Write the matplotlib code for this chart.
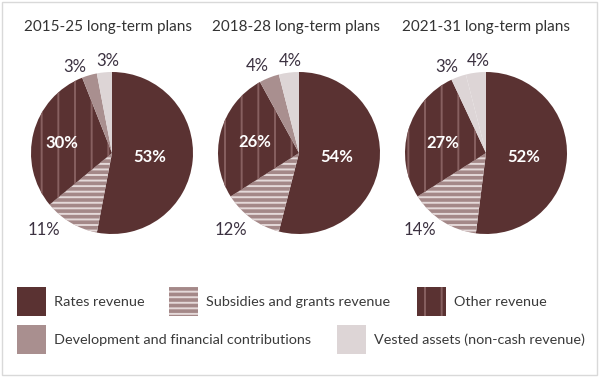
import matplotlib
matplotlib.use("Agg")
import matplotlib.pyplot as plt
from matplotlib.patches import Rectangle

# data
plans = ["2015-25 long-term plans", "2018-28 long-term plans", "2021-31 long-term plans"]
categories = ["Rates revenue", "Subsidies and grants revenue", "Other revenue",
              "Development and financial contributions", "Vested assets (non-cash revenue)"]
rates = [53, 54, 52]
subsidies = [11, 12, 14]
other = [30, 26, 27]
development = [3, 4, 3]
vested = [3, 4, 4]

# styles
W, H = 600, 379
plt.rcParams["font.family"] = ["Lato", "DejaVu Sans"]
plt.rcParams["hatch.linewidth"] = 1.4

dark = "#5a3232"
sub_col = "#a48888"
dev_col = "#a98f8f"
vest_col = "#ddd5d6"
face = [dark, sub_col, dark, dev_col, vest_col]
hatch_col = ["none", "#e4d9d9", "#876060", "none", "none"]
hatches = [None, "---", "|", None, None]
label_col = "#3b3140"

centers = [112, 299, 486]
cy, r = 153, 81
# label positions in pie units (radius = 1)
label_pos = [
    [(0.47, -0.05), (-0.84, -0.95), (-0.62, 0.12), (-0.46, 1.06), (-0.05, 1.13)],
    [(0.47, -0.05), (-0.84, -0.95), (-0.54, 0.14), (-0.51, 1.07), (-0.11, 1.13)],
    [(0.46, -0.05), (-0.81, -0.95), (-0.53, 0.12), (-0.48, 1.06), (-0.10, 1.13)],
]
title_x = [108, 296, 486]

fig = plt.figure(figsize=(W / 100, H / 100), dpi=100)
fig.patch.set_facecolor("white")
fig.add_artist(Rectangle((2 / W, 4 / H), 595 / W, 373 / H, transform=fig.transFigure,
                         facecolor="none", edgecolor="#d9d9d9", linewidth=1))

for i in range(3):
    vals = [rates[i], subsidies[i], other[i], development[i], vested[i]]
    cx = centers[i]
    ax = fig.add_axes([(cx - r) / W, 1 - (cy + r) / H, 2 * r / W, 2 * r / H])
    cols = list(face)
    if i == 2:
        cols[3] = vest_col
    wedges, _ = ax.pie(vals, colors=cols, startangle=90, counterclock=False,
                       wedgeprops=dict(linewidth=0))
    for k, w in enumerate(wedges):
        if hatches[k]:
            w.set_hatch(hatches[k])
            w.set_edgecolor(hatch_col[k])
            w.set_linewidth(0)
    ax.set_xlim(-1, 1)
    ax.set_ylim(-1, 1)
    ax.set_aspect("equal")
    for k, v in enumerate(vals):
        x, y = label_pos[i][k]
        inner = k in (0, 2)
        ax.text(x, y, f"{v}%", ha="center", va="center", fontsize=12,
                color="white" if inner else label_col,
                fontweight="bold" if inner else "normal", clip_on=False)
    fig.text(title_x[i] / W, 1 - 27 / H, plans[i], ha="center", va="center",
             fontsize=11, color="#333333")

# legend drawn in pixel coordinates
lax = fig.add_axes([0, 0, 1, 1], zorder=-1)
lax.set_xlim(0, W)
lax.set_ylim(H, 0)
lax.axis("off")
leg_xy = [(17, 287), (169, 287), (417, 287), (17, 325), (337, 325)]
for k, name in enumerate(categories):
    x, y = leg_xy[k]
    rect = Rectangle((x, y), 29, 29, facecolor=face[k], linewidth=0)
    if hatches[k]:
        rect.set_hatch(hatches[k])
        rect.set_edgecolor(hatch_col[k])
    lax.add_patch(rect)
    lax.text(x + 37, y + 14.5, name, ha="left", va="center", fontsize=10.4, color="#3a3a3a")

fig.savefig("out.png", dpi=100)
